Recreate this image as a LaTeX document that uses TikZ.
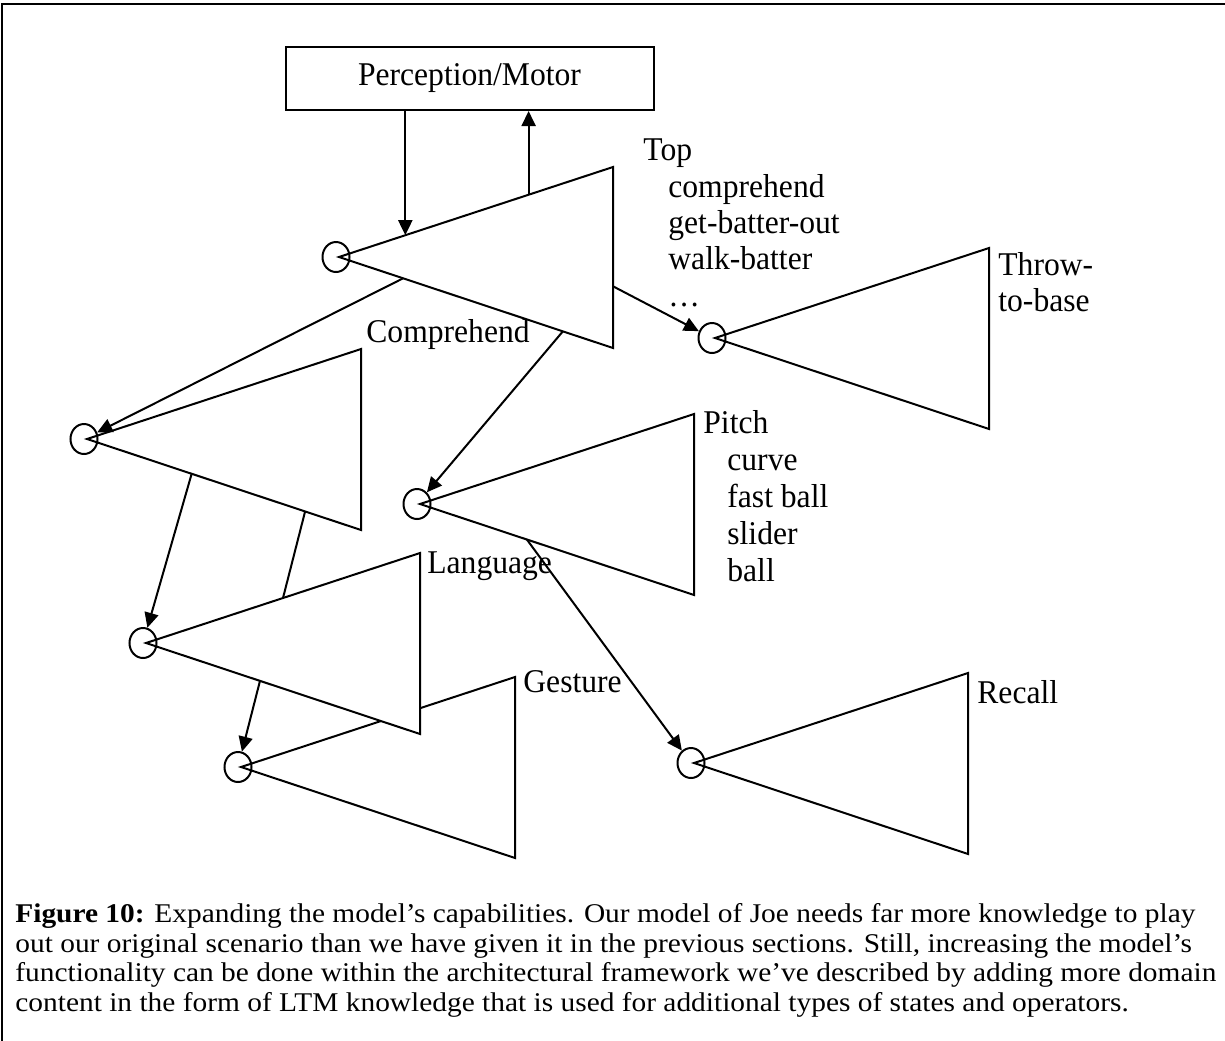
\documentclass[tikz,border=0pt]{standalone}
\usepackage{fontspec}
\setmainfont{Liberation Serif}
\usetikzlibrary{calc,arrows.meta,shapes.geometric}

% One problem space: a port circle at (x,y) and a white wedge opening to the right.
\newcommand\problemspace[3]{%
  \coordinate (#1a) at (#2+3,#3);
  \coordinate (#1b) at (#2+277,#3-90);
  \coordinate (#1c) at (#2+277,#3+91);
  \draw[wedge] (#1a) -- (#1b) -- (#1c) -- cycle;
  \node[port] (#1) at (#2,#3) {};
}
% label and caption faces (slightly tall / slightly flat Times)
\newcommand\tallface[1]{\scalebox{1}[1.05]{#1}}
\newcommand\flatface[1]{\scalebox{1}[0.92]{#1}}

\begin{document}
\begin{tikzpicture}[x=0.5pt,y=-0.5pt,
  wedge/.style={draw,fill=white,line width=1pt},
  port/.style={draw,ellipse,line width=1pt,minimum width=13.5pt,minimum height=15pt,inner sep=0pt},
  arr/.style={line width=1pt,-{Triangle[length=7.5pt,width=7pt]}},
  link/.style={line width=1pt},
  lbl/.style={anchor=base west,inner sep=0pt,font=\fontsize{15.8pt}{18.25pt}\selectfont},
  captionline/.style={anchor=base west,inner sep=0pt,font=\fontsize{14.7pt}{14.85pt}\selectfont},
  modulebox/.style={draw,line width=1pt,minimum width=184pt,minimum height=31.5pt,inner sep=0pt,
    font=\fontsize{15.8pt}{18.25pt}\selectfont}]
\useasboundingbox (0,0) rectangle (1225,1040);

% outer frame
\draw[line width=1.25pt] (1226,4) -- (2,4) -- (2,1041);

% perception / motor module
\node[modulebox] (pm) at (469.5,78.5) {\tallface{Perception/Motor}};

% problem spaces (Gesture before Language so Language covers it)
\problemspace{top}{336}{257}
\problemspace{throw}{712}{338}
\problemspace{comp}{84}{439}
\problemspace{pitch}{417}{504}
\problemspace{gest}{238}{767}
\problemspace{lang}{143}{643}
\problemspace{recall}{691}{763}

% attachment points on the wedge edges
\coordinate (pmIn)   at ($(topa)!0.242!(topb)$);
\coordinate (pmOut)  at ($(topa)!0.692!(topb)$);
\coordinate (toComp) at ($(topa)!0.234!(topc)$);
\coordinate (toThrow) at ($(topb)!0.659!(topc)$);
\coordinate (toPitch) at ($(topa)!0.817!(topc)$);
\coordinate (toLang) at ($(compa)!0.382!(compc)$);
\coordinate (compLow) at ($(compa)!0.796!(compc)$);
\coordinate (langUp) at ($(langa)!0.5!(langb)$);
\coordinate (toRecall) at ($(pitcha)!0.39!(pitchc)$);
\coordinate (toGest) at ($(langa)!0.416!(langc)$);

% connectors
\draw[arr] (pm.south -| pmIn) -- (pmIn);
\draw[arr] (pmOut) -- (pm.south -| pmOut);
\draw[arr] (toComp) -- (comp);
\draw[arr] (toThrow) -- (throw);
\draw[arr] (toPitch) -- (pitch);
\draw[arr] (toLang) -- (lang);
\draw[link] (compLow) -- (langUp);
\draw[arr] (toGest) -- (gest);

% labels
\node[lbl] (lTop)  at (643,160) {\tallface{Top}};
\node[lbl] (lTop1) at (668,197) {\tallface{comprehend}};
\node[lbl] (lTop2) at (668,233) {\tallface{get-batter-out}};
\node[lbl] (lTop3) at (668,269) {\tallface{walk-batter}};
\node[lbl] (lTop4) at (668,306) {\tallface{…}};
\node[lbl] (lThrow1) at (998,275) {\tallface{Throw-}};
\node[lbl] (lThrow2) at (998,311) {\tallface{to-base}};
\node[lbl] (lComp) at (366,342) {\tallface{Comprehend}};
\node[lbl] (lPitch) at (703,433) {\tallface{Pitch}};
\node[lbl] (lPitch1) at (727,470) {\tallface{curve}};
\node[lbl] (lPitch2) at (727,507) {\tallface{fast ball}};
\node[lbl] (lPitch3) at (727,544) {\tallface{slider}};
\node[lbl] (lPitch4) at (727,581) {\tallface{ball}};
\node[lbl] (lLang) at (427,573) {\tallface{Language}};
\node[lbl] (lGest) at (523,692) {\tallface{Gesture}};
\node[lbl] (lRecall) at (977,703) {\tallface{Recall}};

% this connector runs over the Language label
\draw[arr] (toRecall) -- (recall);

% caption
\node[captionline] (cap1) at (15,922) {\flatface{\textbf{Figure 10:} Expanding the model’s capabilities. Our model of Joe needs far more knowledge to play}};
\node[captionline] (cap2) at (15,952) {\flatface{out our original scenario than we have given it in the previous sections. Still, increasing the model’s}};
\node[captionline] (cap3) at (15,981) {\flatface{functionality can be done within the architectural framework we’ve described by adding more domain}};
\node[captionline] (cap4) at (15,1011) {\flatface{content in the form of LTM knowledge that is used for additional types of states and operators.}};
\end{tikzpicture}
\end{document}
